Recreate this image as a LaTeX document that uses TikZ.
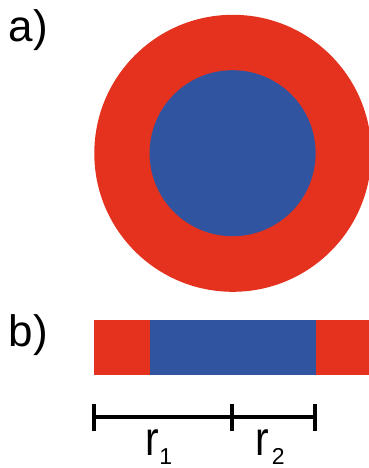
\documentclass[tikz,border=0pt]{standalone}
\usepackage{fontspec}
\setmainfont{Liberation Sans}
\definecolor{ringred}{RGB}{228,50,30}
\definecolor{coreblue}{RGB}{48,84,160}
\newcommand{\rsym}{\scalebox{0.85}[1]{\fontsize{48}{48}\selectfont r}}
\newcommand{\subnum}[1]{\raisebox{-9pt}{\fontsize{23}{23}\selectfont #1}}
\begin{document}
\begin{tikzpicture}[x=1pt,y=-1pt,
  lab/.style={inner sep=0pt, anchor=base west, font=\fontsize{44}{44}\selectfont},
  barline/.style={line width=4pt, black}]
\useasboundingbox (0,0) rectangle (369,468);
\clip (0,0) rectangle (369,468);
% a) rings
\fill[ringred] (232.8,153.3) circle[radius=138.5pt];
\fill[coreblue] (232.6,153.2) circle[radius=83pt];
% b) bar
\fill[ringred] (94,319.5) rectangle (149.5,375);
\fill[coreblue] (149.5,319.5) rectangle (315.7,375);
\fill[ringred] (315.7,319.5) rectangle (369,375);
% labels
\node[lab] (la) at (8.5,41.7) {a)};
\node[lab] (lb) at (8.5,346.7) {b)};
% scale bar
\coordinate (s0) at (93.7,417);
\coordinate (s1) at (232,417);
\coordinate (s2) at (315,417);
\draw[barline] (s0) -- (s2);
\draw[barline] ([yshift=-14pt]s0) -- ([yshift=13pt]s0);
\draw[barline] ([yshift=-14pt]s1) -- ([yshift=13pt]s1);
\draw[barline] ([yshift=-14pt]s2) -- ([yshift=13pt]s2);
\node[lab] (r1) at (145.6,455) {\rsym\subnum{1}};
\node[lab] (r2) at (255.6,455) {\rsym\kern2.5pt\subnum{2}};
\end{tikzpicture}
\end{document}
